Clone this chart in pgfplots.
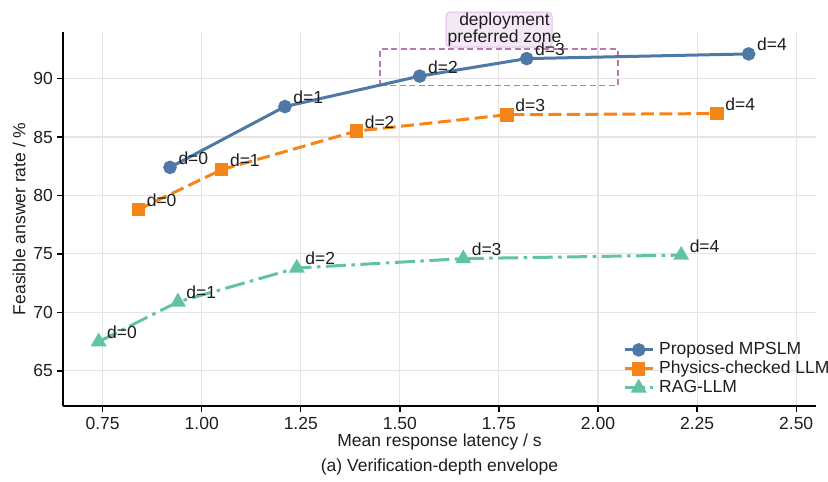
\documentclass[border=0pt]{standalone}
\usepackage{fontspec}
\setmainfont{Liberation Sans}
\usepackage{pgfplots}
\pgfplotsset{compat=1.18}
\definecolor{cblue}{HTML}{4E79A7}
\definecolor{corange}{HTML}{F58518}
\definecolor{cgreen}{HTML}{62C3A2}
\definecolor{cpurple}{RGB}{188,120,176}
\definecolor{gridc}{RGB}{228,228,228}
\definecolor{txt}{RGB}{30,30,30}
\definecolor{boxfill}{RGB}{244,232,246}
\definecolor{boxdraw}{RGB}{222,192,228}

\pgfplotstableread{
x y label
0.92 82.4 d=0
1.21 87.6 d=1
1.55 90.2 d=2
1.82 91.7 d=3
2.38 92.1 d=4
}\proposed
\pgfplotstableread{
x y label
0.84 78.8 d=0
1.05 82.2 d=1
1.39 85.5 d=2
1.77 86.9 d=3
2.30 87.0 d=4
}\physics
\pgfplotstableread{
x y label
0.74 67.5 d=0
0.94 70.9 d=1
1.24 73.8 d=2
1.66 74.6 d=3
2.21 74.9 d=4
}\rag

\begin{document}
\fontsize{17.5}{21}\selectfont
\begin{tikzpicture}[font=\fontsize{17.5}{21}\selectfont, text=txt]
\begin{axis}[
  at={(63pt,-406pt)}, anchor=south west,
  width=753pt, height=374.3pt, scale only axis,
  xmin=0.65, xmax=2.55, ymin=62, ymax=94,
  clip=false,
  axis x line*=bottom, axis y line*=left,
  axis line style={line width=1.3pt, black},
  xtick={0.75,1,1.25,1.5,1.75,2,2.25,2.5},
  ytick={65,70,75,80,85,90},
  tick align=outside,
  major tick length=6pt,
  tick style={line width=1.3pt, black},
  /pgf/number format/assume math mode=true,
  x tick label style={/pgf/number format/fixed, /pgf/number format/fixed zerofill, /pgf/number format/precision=2, anchor=north, inner sep=0pt, yshift=-5.5pt},
  y tick label style={anchor=east, inner sep=0pt, xshift=-4pt},
  grid=major,
  major grid style={gridc, line width=1.1pt},
  xlabel={Mean response latency / s},
  ylabel={Feasible answer rate / \%},
  xlabel style={at={(axis description cs:0.5,0)}, anchor=center, yshift=-36pt},
  ylabel style={at={(axis description cs:0,0.5)}, anchor=center, rotate=0, yshift=44pt},
  every node near coord/.style={anchor=base west, xshift=7pt, yshift=3pt, text=txt, inner sep=0pt},
  legend image code/.code={\draw[mark repeat=2,mark phase=2,#1] plot coordinates {(0pt,0pt) (14pt,0pt) (28pt,0pt)};},
  legend style={at={(axis cs:2.0555,67.69)}, anchor=north west, draw=none, fill=none,
    row sep=2.5pt, nodes={inner xsep=5pt, inner ysep=0pt, text height=12.8pt, text depth=3.7pt}},
  legend cell align=left,
]
\draw[cpurple, dash pattern=on 6pt off 3.5pt, line width=1.6pt] (axis cs:1.45,89.4) rectangle (axis cs:2.05,92.5);

\addplot[cblue, line width=3pt, mark=*, mark size=5.25pt, mark options={solid},
  nodes near coords, point meta=explicit symbolic]
  table[x=x, y=y, meta=label] {\proposed};
\addlegendentry{Proposed MPSLM}
\addplot[corange, line width=3pt, dash pattern=on 13pt off 5.5pt, mark=square*, mark size=5.25pt, mark options={solid},
  nodes near coords, point meta=explicit symbolic]
  table[x=x, y=y, meta=label] {\physics};
\addlegendentry{Physics-checked LLM}
\addplot[cgreen, line width=3pt, dash pattern=on 20pt off 5.5pt on 3.5pt off 5.5pt, mark=triangle*, mark size=6.2pt, mark options={solid},
  nodes near coords, point meta=explicit symbolic]
  table[x=x, y=y, meta=label] {\rag};
\addlegendentry{RAG-LLM}

\draw[rounded corners=4pt, fill=boxfill, draw=boxdraw, line width=1pt] (axis cs:1.6165,95.684) rectangle (axis cs:1.884,92.69);
\node[align=center, font=\fontsize{17.5}{15}\selectfont, inner sep=0pt] at (axis cs:1.764,94.18) {deployment\\preferred zone};
\end{axis}
\node[anchor=center] at (439.5pt,-467.2pt) {(a) Verification-depth envelope};
\pgfresetboundingbox
\path[use as bounding box] (0pt,0pt) rectangle (828pt,-482pt);
\end{tikzpicture}
\end{document}
